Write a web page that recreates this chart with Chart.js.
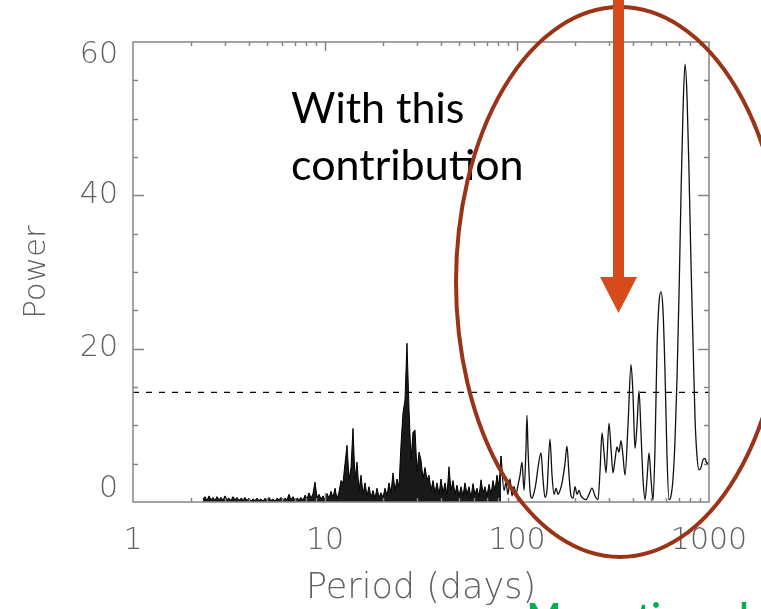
<!DOCTYPE html>
<html>
<head>
<meta charset="utf-8">
<title>Periodogram</title>
<script src="https://cdn.jsdelivr.net/npm/chart.js@4.4.1/dist/chart.umd.min.js"></script>
<style>
    html, body { margin: 0; padding: 0; background: #ffffff; }
    #periodChart { display: block; }
</style>
</head>
<body>
<canvas id="periodChart" width="761" height="609"></canvas>
<script>
// Short periods: dense, noisy part of the periodogram (days)
const periodsNoisy = [
    2.316, 2.371, 2.429, 2.488, 2.548, 2.610, 2.673, 2.738, 2.805, 2.873,
    2.943, 3.014, 3.088, 3.162, 3.239, 3.318, 3.398, 3.481, 3.565, 3.652,
    3.741, 3.831, 3.925, 4.020, 4.117, 4.217, 4.320, 4.425, 4.532, 4.642,
    4.755, 4.870, 4.988, 5.109, 5.233, 5.360, 5.490, 5.623, 5.760, 5.900,
    6.043, 6.190, 6.340, 6.494, 6.652, 6.813, 6.979, 7.148, 7.322, 7.499,
    7.681, 7.868, 8.059, 8.254, 8.455, 8.660, 8.870, 9.085, 9.306, 9.532,
    9.763, 10.00, 10.24, 10.49, 10.75, 11.01, 11.28, 11.55, 11.83, 12.12,
    12.41, 12.71, 13.02, 13.34, 13.66, 13.99, 14.33, 14.68, 15.04, 15.40,
    15.78, 16.16, 16.55, 16.95, 17.37, 17.78, 18.22, 18.66, 19.11, 19.58,
    20.05, 20.54, 21.04, 21.54, 22.07, 22.60, 23.15, 23.71, 24.29, 24.88,
    25.48, 26.10, 26.73, 27.38, 28.05, 28.73, 29.43, 30.14, 30.88, 31.62,
    32.39, 33.18, 33.98, 34.81, 35.65, 36.52, 37.41, 38.31, 39.25, 40.20,
    41.17, 42.17, 43.20, 44.25, 45.32, 46.42, 47.55, 48.70, 49.88, 51.09,
    52.33, 53.60, 54.90, 56.23, 57.60, 59.00, 60.43, 61.90, 63.40, 64.94,
    66.52, 68.13, 69.79, 71.48, 73.22, 74.99, 76.81, 78.68, 80.59, 82.54
];
const powerNoisy = [
    0.4, 0.7, 0.2, 0.8, 0.3, 0.6, 0.2, 0.7, 0.3, 0.6,
    0.2, 0.8, 0.3, 0.5, 0.2, 0.7, 0.3, 0.6, 0.2, 0.5,
    0.3, 0.6, 0.2, 0.5, 0.1, 0.4, 0.2, 0.5, 0.2, 0.4,
    0.1, 0.5, 0.2, 0.6, 0.2, 0.4, 0.1, 0.5, 0.3, 0.6,
    0.2, 0.5, 0.3, 1.0, 0.3, 0.7, 0.2, 0.5, 0.3, 0.6,
    0.2, 0.9, 0.4, 1.2, 0.5, 1.1, 2.6, 0.6, 1.0, 0.4,
    0.8, 0.3, 1.1, 0.5, 1.4, 0.6, 1.8, 0.4, 1.3, 2.8,
    2.5, 5.0, 7.4, 3.0, 4.5, 9.6, 3.0, 5.2, 1.5, 3.5,
    1.0, 2.5, 0.8, 2.0, 0.6, 1.5, 0.5, 1.8, 0.6, 1.2,
    0.6, 1.8, 0.8, 2.5, 1.2, 3.8, 1.5, 3.0, 2.0, 7.5,
    11.6, 13.3, 20.7, 12.2, 5.5, 9.1, 9.4, 4.0, 6.5, 5.5,
    3.0, 4.5, 2.9, 3.5, 1.5, 2.8, 1.2, 2.5, 1.0, 3.0,
    1.2, 2.5, 1.0, 4.6, 1.5, 2.8, 1.0, 2.2, 0.8, 2.0,
    0.8, 2.5, 1.0, 2.0, 0.6, 2.4, 1.0, 1.8, 0.7, 2.9,
    1.2, 2.0, 0.8, 2.3, 1.0, 2.8, 1.5, 3.5, 2.0, 6.0
];

// Long periods: resolved peaks
const periodsSmooth = [
    82.54, 85.6, 87.6, 89.8, 91.9, 94.2, 96.5, 98.8, 101.2, 103.7,
    106.2, 108.8, 111.4, 112.7, 114.1, 116.9, 119.7, 122.6, 125.6, 128.7,
    133.4, 136.6, 139.9, 143.3, 148.5, 152.2, 155.9, 159.7, 163.5, 167.5,
    171.6, 177.8, 182.1, 186.6, 191.1, 195.8, 200.5, 205.4, 210.4, 215.4,
    220.7, 228.7, 237.1, 245.8, 254.9, 264.2, 270.6, 277.2, 283.9, 290.8,
    301.5, 308.8, 316.2, 323.9, 331.8, 339.8, 348.1, 356.5, 365.2, 378.5,
    392.5, 401.9, 411.7, 421.7, 432.0, 442.4, 453.2, 464.2, 475.5, 487.0,
    498.8, 510.9, 523.3, 536.0, 549.0, 562.3, 576.0, 590.0, 604.3, 619.0,
    634.0, 649.4, 665.2, 681.3, 697.9, 714.8, 732.2, 749.9, 768.1, 786.8,
    805.9, 825.4, 845.5, 866.0, 887.0, 908.5, 930.6, 953.2, 976.3, 1000
];
const powerSmooth = [
    6.0, 1.5, 2.5, 1.0, 3.0, 0.8, 2.0, 1.0, 2.2, 3.5,
    5.2, 1.5, 7.0, 11.3, 7.0, 1.5, 0.5, 1.2, 2.5, 4.5,
    6.4, 3.0, 0.6, 1.5, 8.2, 3.5, 1.0, 1.8, 1.0, 1.5,
    2.5, 5.0, 7.3, 3.5, 0.8, 0.5, 2.0, 1.0, 1.5, 0.8,
    0.5, 0.3, 1.0, 1.8, 0.8, 0.3, 4.0, 9.0, 6.5, 3.8,
    10.3, 7.0, 3.8, 5.5, 7.2, 6.5, 8.0, 6.0, 3.5, 10.0,
    17.9, 14.0, 7.0, 10.0, 14.5, 9.0, 3.0, 0.3, 3.0, 6.4,
    3.0, 0.2, 7.0, 20.0, 26.0, 27.4, 25.0, 17.0, 6.0, 0.3,
    0.8, 3.0, 8.0, 16.0, 27.0, 40.0, 51.0, 57.1, 53.0, 43.0,
    31.0, 21.0, 11.0, 6.0, 4.2, 4.5, 5.5, 5.7, 5.0, 5.2
];

// Significance level (dashed line)
const thresholdPower = 14.3;

// Axis labels
const xTickValues = [1, 10, 100, 1000];
const yTickValues = [0, 20, 40, 60];

const AXIS_COLOR = '#858585';
const LABEL_COLOR = '#616161';
const LABEL_FONT = "'DejaVu Sans ExtraLight', 'DejaVu Sans'";

const PeriodChart = {
    /**
     * Builds the chart
     */
    init: function() {
        const canvas = document.getElementById('periodChart');

        const toPoints = (xs, ys) => xs.map((x, i) => ({ x: x, y: ys[i] }));

        const data = {
            datasets: [
                {
                    label: 'noisy',
                    data: toPoints(periodsNoisy, powerNoisy),
                    borderColor: '#000000',
                    backgroundColor: 'rgba(0, 0, 0, 0.9)',
                    borderWidth: 1,
                    pointRadius: 0,
                    tension: 0,
                    fill: 'origin'
                },
                {
                    label: 'smooth',
                    data: toPoints(periodsSmooth, powerSmooth),
                    borderColor: '#111111',
                    borderWidth: 1.3,
                    pointRadius: 0,
                    cubicInterpolationMode: 'monotone',
                    fill: false
                },
                {
                    label: 'threshold',
                    data: [{ x: xTickValues[0], y: thresholdPower }, { x: xTickValues[3], y: thresholdPower }],
                    borderColor: '#000000',
                    borderWidth: 1.4,
                    borderDash: [6, 7],
                    pointRadius: 0,
                    fill: false
                }
            ]
        };

        const config = {
            type: 'line',
            data: data,
            options: {
                responsive: false,
                animation: false,
                devicePixelRatio: 1,
                layout: {
                    padding: { left: 0, right: 52, top: 42, bottom: 0 }
                },
                plugins: {
                    legend: { display: false },
                    tooltip: { enabled: false }
                },
                scales: {
                    x: {
                        type: 'logarithmic',
                        min: 1,
                        max: 1000,
                        grid: { display: false, drawTicks: false },
                        border: { display: false },
                        afterBuildTicks: (scale) => {
                            scale.ticks = xTickValues.map(v => ({ value: v, major: true }));
                        },
                        afterFit: (scale) => {
                            scale.height = 107;
                            // labels may overhang the frame, the page margin covers it
                            scale.paddingLeft = 0;
                            scale.paddingRight = 0;
                        },
                        ticks: {
                            autoSkip: false,
                            maxRotation: 0,
                            padding: 21,
                            color: LABEL_COLOR,
                            font: { family: LABEL_FONT, size: 30, weight: 200 },
                            callback: (value) => String(value)
                        },
                        title: {
                            display: true,
                            text: 'Period (days)',
                            color: LABEL_COLOR,
                            font: { family: LABEL_FONT, size: 35, weight: 200 },
                            padding: { top: 0, bottom: -1 }
                        }
                    },
                    y: {
                        min: 0,
                        max: 60,
                        grid: { display: false, drawTicks: false },
                        border: { display: false },
                        afterBuildTicks: (scale) => {
                            scale.ticks = yTickValues.map(v => ({ value: v }));
                        },
                        afterFit: (scale) => { scale.width = 133; },
                        ticks: {
                            autoSkip: false,
                            padding: 15,
                            color: LABEL_COLOR,
                            font: { family: LABEL_FONT, size: 30, weight: 200, lineHeight: 0.85 },
                            // top and bottom labels sit inside the frame
                            callback: (value) => {
                                if (value === 60) return ['', '60'];
                                if (value === 0) return ['0', ''];
                                return String(value);
                            }
                        },
                        title: {
                            display: true,
                            text: 'Power',
                            color: LABEL_COLOR,
                            font: { family: LABEL_FONT, size: 31, weight: 200 },
                            padding: { top: 18, bottom: 0 }
                        }
                    }
                }
            },
            plugins: [this.framePlugin(), this.annotationPlugin()]
        };

        this.chart = new Chart(canvas, config);
    },

    /**
     * Box around the plot with inward tick marks on all four sides
     */
    framePlugin: function() {
        return {
            id: 'frame',
            afterDatasetsDraw: (chart) => {
                const { ctx, chartArea: a, scales } = chart;
                const xs = scales.x;
                const ys = scales.y;

                ctx.save();
                ctx.strokeStyle = AXIS_COLOR;
                ctx.lineWidth = 1.5;
                ctx.strokeRect(a.left, a.top, a.right - a.left, a.bottom - a.top);

                ctx.beginPath();
                // y ticks every 5, longer at the labelled values
                for (let v = 5; v < 60; v += 5) {
                    const py = Math.round(ys.getPixelForValue(v)) + 0.5;
                    const len = v % 20 === 0 ? 11 : 5;
                    ctx.moveTo(a.left, py);
                    ctx.lineTo(a.left + len, py);
                    ctx.moveTo(a.right, py);
                    ctx.lineTo(a.right - len, py);
                }
                // log ticks on bottom and top
                [1, 10, 100].forEach(decade => {
                    for (let m = 1; m < 10; m++) {
                        const v = decade * m;
                        if (v === 1) continue;
                        const px = Math.round(xs.getPixelForValue(v)) + 0.5;
                        const len = m === 1 ? 9 : 4;
                        ctx.moveTo(px, a.bottom);
                        ctx.lineTo(px, a.bottom - len);
                        ctx.moveTo(px, a.top);
                        ctx.lineTo(px, a.top + len);
                    }
                });
                ctx.stroke();
                ctx.restore();
            }
        };
    },

    /**
     * Slide annotations drawn over the plot
     */
    annotationPlugin: function() {
        return {
            id: 'slideNotes',
            afterDraw: (chart) => {
                const ctx = chart.ctx;
                ctx.save();

                // caption
                ctx.fillStyle = '#000000';
                ctx.font = '43px Lato, "Open Sans", sans-serif';
                ctx.textAlign = 'left';
                ctx.textBaseline = 'alphabetic';
                ctx.fillText('With this', 291, 123);
                ctx.fillText('contribution', 291, 180);

                // ellipse around the long-period peaks
                ctx.strokeStyle = '#9b3416';
                ctx.lineWidth = 4;
                ctx.beginPath();
                ctx.ellipse(620, 282, 164, 275, 0, 0, Math.PI * 2);
                ctx.stroke();

                // arrow
                ctx.fillStyle = '#d64b1b';
                ctx.fillRect(613, 0, 11, 279);
                ctx.beginPath();
                ctx.moveTo(600, 277);
                ctx.lineTo(637, 277);
                ctx.lineTo(618.5, 313);
                ctx.closePath();
                ctx.fill();

                // green text cut off at the bottom of the slide
                ctx.fillStyle = '#00b050';
                ctx.font = 'bold 36px Lato, "Open Sans", sans-serif';
                ctx.fillText('Magnetic cycle?', 527, 629);

                ctx.restore();
            }
        };
    }
};

PeriodChart.init();
</script>
</body>
</html>
